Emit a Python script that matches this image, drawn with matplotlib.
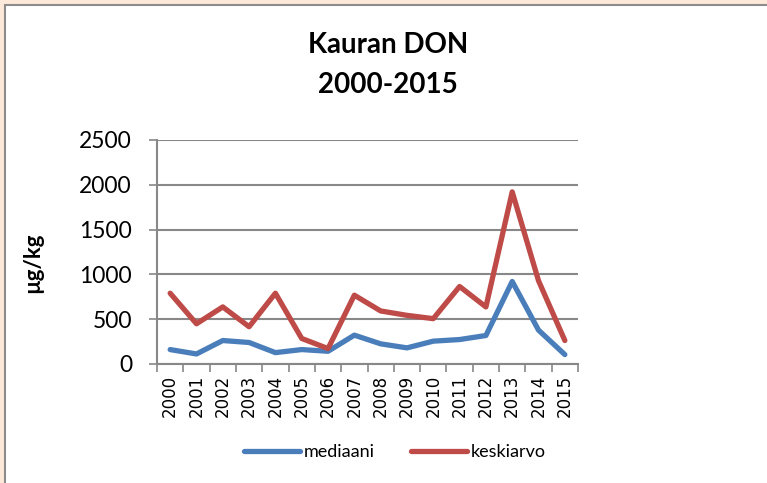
import matplotlib.pyplot as plt
from matplotlib.patches import Rectangle
import numpy as np

years = [str(y) for y in range(2000, 2016)]
mediaani = [161, 112, 262, 240, 127, 161, 142, 322, 225, 180, 255, 273, 318, 921, 378, 105]
keskiarvo = [790, 449, 637, 416, 790, 285, 172, 768, 592, 543, 506, 865, 637, 1921, 929, 262]

blue = "#4A7EBB"
red = "#BE4B48"
grey = "#888888"

plt.rcParams['font.family'] = ['Lato', 'DejaVu Sans']

fig = plt.figure(figsize=(7.67, 4.83), dpi=100)
fig.patch.set_facecolor("#FDE9D9")
# white chart area with grey frame
fig.patches.append(Rectangle((4.5 / 767, -0.1), 1.2, 1 - 4.5 / 483 + 0.1,
                             transform=fig.transFigure, facecolor="white",
                             edgecolor="#8C8C8C", linewidth=1.5, zorder=-10))

ax = fig.add_axes([157 / 767, 1 - 364 / 483, (578 - 157) / 767, (364 - 140) / 483])
ax.set_facecolor("none")
x = np.arange(len(years))
ax.plot(x, mediaani, color=blue, lw=3.8, label="mediaani", solid_capstyle="round")
ax.plot(x, keskiarvo, color=red, lw=3.8, label="keskiarvo", solid_capstyle="round")

ax.set_xlim(-0.5, len(years) - 0.5)
ax.set_ylim(0, 2500)
ax.set_yticks(range(0, 2501, 500))
ax.tick_params(axis="y", labelsize=16.5, length=6, width=1.2, color=grey, pad=12)
ax.yaxis.grid(True, color=grey, lw=1.5)
ax.set_axisbelow(True)

ax.set_xticks(x)
ax.set_xticklabels(years, rotation=90, fontsize=12, family="DejaVu Sans")
ax.set_xticks(np.arange(-0.5, len(years)), minor=True)
ax.tick_params(axis="x", which="major", length=0, pad=8)
ax.tick_params(axis="x", which="minor", length=6, width=1.2, color=grey)

for s in ["top", "right"]:
    ax.spines[s].set_visible(False)
for s in ["left", "bottom"]:
    ax.spines[s].set_color(grey)
    ax.spines[s].set_linewidth(1.5)

ax.set_ylabel("µg/kg", fontsize=16, fontweight="bold", labelpad=18)
ax.yaxis.set_label_coords(-0.27, 0.45)
fig.text(388 / 767, 1 - 65 / 483, "Kauran DON\n2000-2015", ha="center", va="center",
         fontsize=20, fontweight="bold", linespacing=1.65)

fig.legend(loc="center", bbox_to_anchor=(395 / 767, 1 - 452 / 483), ncol=2,
           frameon=False, fontsize=13, handlelength=3.1, handletextpad=0.2,
           columnspacing=2.0)

fig.savefig("out.png", dpi=100, facecolor=fig.get_facecolor())
